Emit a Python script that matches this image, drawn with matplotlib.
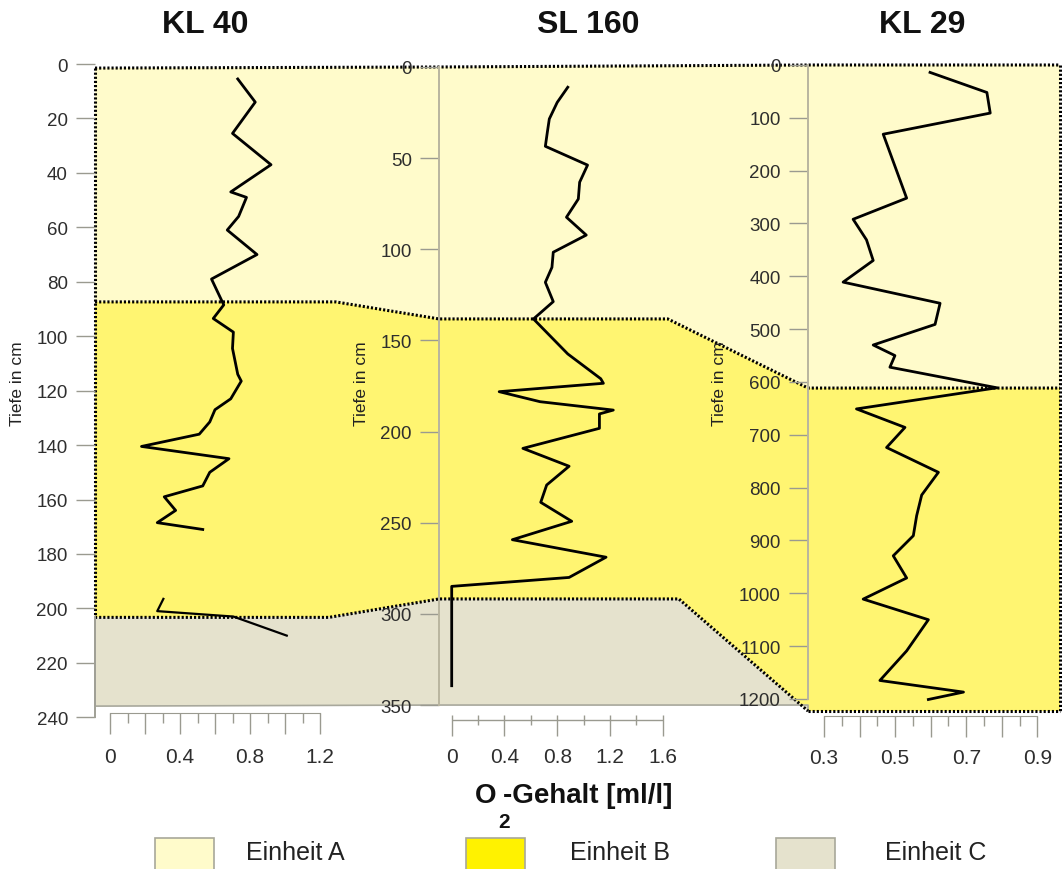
import matplotlib
matplotlib.use("Agg")
import matplotlib.pyplot as plt
import matplotlib.transforms as mtransforms
from matplotlib.patches import Polygon, Rectangle
from matplotlib.ticker import FixedLocator, FuncFormatter

plt.rcParams['font.family'] = ['Liberation Sans', 'DejaVu Sans']

W, H = 1062, 870

# --- O2 profiles (depth in cm, O2 in ml/l) ---
kl40_depth_a = [5.5, 14, 25.5, 37, 47, 49, 56, 61, 70, 79, 88.5, 93.5, 98.5, 104.5,
                114, 116.5, 123, 127, 131.5, 136, 140.5, 145, 150, 155, 159, 164,
                168.5, 171]
kl40_o2_a = [0.73, 0.83, 0.70, 0.92, 0.69, 0.78, 0.735, 0.67, 0.84, 0.58, 0.65, 0.59,
             0.705, 0.70, 0.73, 0.75, 0.69, 0.60, 0.57, 0.51, 0.18, 0.68, 0.57, 0.53,
             0.31, 0.375, 0.27, 0.53]
kl40_depth_b = [196.5, 201, 203, 210]
kl40_o2_b = [0.305, 0.27, 0.705, 1.01]

sl160_depth = [11.1, 19.4, 28.5, 35.8, 43.5, 53.8, 63.2, 72.4, 82.4, 92.2, 101.6,
               109.9, 118.1, 128.7, 138.2, 157.4, 171, 173.5, 178.1, 183.6, 188.2,
               190.3, 198.2, 209.2, 219, 229.3, 238.8, 249.2, 259.3, 268.9, 280,
               284.9, 339.4]
sl160_o2 = [0.88, 0.80, 0.74, 0.725, 0.71, 1.03, 0.97, 0.96, 0.87, 1.02, 0.77, 0.76,
            0.71, 0.77, 0.62, 0.88, 1.13, 1.15, 0.36, 0.67, 1.225, 1.12, 1.12, 0.54,
            0.89, 0.72, 0.675, 0.91, 0.46, 1.17, 0.89, 0.0, 0.0]

kl29_depth = [14, 52, 91, 131, 252, 292, 331, 370, 411, 451, 491, 530, 550, 572, 611,
              651, 686, 724, 771, 814, 853, 891, 929, 971, 1011, 1050, 1109, 1165,
              1187, 1201]
kl29_o2 = [0.62, 0.79, 0.80, 0.48, 0.55, 0.39, 0.43, 0.45, 0.36, 0.65, 0.635, 0.45,
           0.515, 0.50, 0.82, 0.40, 0.545, 0.49, 0.645, 0.595, 0.58, 0.57, 0.51,
           0.55, 0.42, 0.615, 0.55, 0.47, 0.72, 0.615]

# unit boundaries per core: top, A/B, B/C (or base)
kl40_units = {'top': 1.5, 'ab': 87.4, 'bc': 203.3, 'base': 235.9}
sl160_units = {'top': 0, 'ab': 138.2, 'bc': 291.8, 'base': 350}
kl29_units = {'top': 0, 'ab': 611.5, 'base': 1222.8}

cores = ['KL 40', 'SL 160', 'KL 29']
depth_ticks = [list(range(0, 241, 20)), list(range(0, 351, 50)), list(range(0, 1201, 100))]
units = ['Einheit A', 'Einheit B', 'Einheit C']

col_a = '#FFFBCB'
col_b = '#FFF571'
col_c = '#E5E2CD'
col_b_legend = '#FFF200'
tick_col = '#9a9a90'
text_col = '#2e2e2e'

fig = plt.figure(figsize=(W / 100, H / 100), dpi=100)
bg = fig.add_axes([0, 0, 1, 1], zorder=0)
bg.set_xlim(0, W)
bg.set_ylim(H, 0)
bg.axis('off')


def px_axes(left, top, right, bottom, **kw):
    return fig.add_axes([left / W, 1 - bottom / H, (right - left) / W, (bottom - top) / H], **kw)


def core_axes(rect, xlim, ylim, ticks, spine_bounds, spine_col):
    ax = px_axes(*rect, zorder=2)
    ax.patch.set_visible(False)
    ax.set_xlim(*xlim)
    ax.set_ylim(*ylim)
    for s in ['top', 'right', 'bottom']:
        ax.spines[s].set_visible(False)
    ax.spines['left'].set_bounds(*spine_bounds)
    ax.spines['left'].set_color(spine_col)
    ax.spines['left'].set_linewidth(1.4)
    ax.set_yticks(ticks)
    ax.tick_params(axis='y', direction='out', length=13.5, width=1, color=tick_col,
                   pad=6, labelsize=13.5, labelcolor=text_col)
    ax.tick_params(axis='x', bottom=False, labelbottom=False)
    return ax


ax40 = core_axes((95, 65, 439, 65 + 240 * 2.722), (-15 / 175, 329 / 175), (240, 0),
                 depth_ticks[0], (203.3, 240), '#a0a096')
ax160 = core_axes((439, 68, 808, 68 + 350 * 1.823),
                  ((439 - 451.7) / 131.9, (808 - 451.7) / 131.9), (350, 0),
                  depth_ticks[1], (0, 350), '#b9b59f')
ax29 = core_axes((808, 66, 1060, 66 + 1225 * 0.5283),
                 (0.3 - 16 / 355.6, 0.3 + 252 / 355.6), (1225, 0),
                 depth_ticks[2], (0, 1200), '#b9b59f')

ax40.plot(kl40_o2_a, kl40_depth_a, color='black', lw=2)
ax40.plot(kl40_o2_b, kl40_depth_b, color='black', lw=1.6)
ax160.plot(sl160_o2, sl160_depth, color='black', lw=2)
ax29.plot(kl29_o2, kl29_depth, color='black', lw=2)


def to_bg(ax, fx, depth):
    tr = mtransforms.blended_transform_factory(ax.transAxes, ax.transData)
    return tuple(bg.transData.inverted().transform(tr.transform((fx, depth))))


top_line = [to_bg(ax40, 0, kl40_units['top']), to_bg(ax160, 0, sl160_units['top']),
            to_bg(ax29, 0, kl29_units['top']), to_bg(ax29, 1, kl29_units['top'])]
ab_line = [to_bg(ax40, 0, kl40_units['ab']), to_bg(ax40, 0.7, kl40_units['ab']),
           to_bg(ax160, 0, sl160_units['ab']), to_bg(ax160, 0.62, sl160_units['ab']),
           to_bg(ax29, 0, kl29_units['ab']), to_bg(ax29, 1, kl29_units['ab'])]
bc_line = [to_bg(ax40, 0, kl40_units['bc']), to_bg(ax40, 0.68, kl40_units['bc']),
           to_bg(ax160, 0, sl160_units['bc']), to_bg(ax160, 0.65, sl160_units['bc']),
           to_bg(ax29, 0, kl29_units['base'])]
base_line = [to_bg(ax29, 0, kl29_units['base']), to_bg(ax29, 1, kl29_units['base'])]
c_bottom = [to_bg(ax160, 1, sl160_units['base']), to_bg(ax160, 0, sl160_units['base']),
            to_bg(ax40, 0, kl40_units['base'])]

poly_a = top_line + ab_line[::-1]
poly_b = ab_line + [to_bg(ax29, 1, kl29_units['base'])] + bc_line[::-1]
poly_c = bc_line + c_bottom

bg.add_patch(Polygon(poly_a, closed=True, facecolor=col_a, edgecolor='none', zorder=1))
bg.add_patch(Polygon(poly_b, closed=True, facecolor=col_b, edgecolor='none', zorder=1))
bg.add_patch(Polygon(poly_c, closed=True, facecolor=col_c, edgecolor='none', zorder=1))
cx, cy = zip(*([bc_line[-1]] + c_bottom + [bc_line[0]]))
bg.plot(cx, cy, color='#a8a89c', lw=1.2, zorder=2)

dots = dict(color='black', lw=2.2, linestyle=(0, (0.7, 0.65)), zorder=3)
for line in [top_line, ab_line, bc_line, base_line,
             [top_line[-1], base_line[-1]],
             [top_line[0], bc_line[0]]]:
    xs, ys = zip(*line)
    bg.plot(xs, ys, **dots)


def o2_scale(rect, ticks, minor, labelled, line_frac, top_line_on):
    ax = px_axes(*rect, zorder=2)
    ax.patch.set_visible(False)
    ax.set_xlim(ticks[0], ticks[-1])
    ax.set_ylim(0, 1)
    for s in ['left', 'right', 'bottom']:
        ax.spines[s].set_visible(False)
    ax.spines['top'].set_visible(top_line_on)
    ax.spines['top'].set_color(tick_col)
    ax.set_yticks([])
    ax.xaxis.set_major_locator(FixedLocator(ticks))
    ax.xaxis.set_minor_locator(FixedLocator(minor))
    ax.xaxis.set_major_formatter(FuncFormatter(
        lambda v, p: f'{v:g}' if any(abs(v - l) < 1e-6 for l in labelled) else ''))
    ax.tick_params(axis='x', which='both', top=True, bottom=False, direction='in',
                   color=tick_col, width=1, labelbottom=True, labeltop=False)
    ax.tick_params(axis='x', which='major', length=15, labelsize=15, pad=9,
                   labelcolor=text_col)
    ax.tick_params(axis='x', which='minor', length=7.5)
    if line_frac is not None:
        ax.axhline(line_frac, color=tick_col, lw=1)
    return ax


o2_ticks_40 = [0, 0.2, 0.4, 0.6, 0.8, 1.0, 1.2]
o2_minor_40 = [0.1, 0.3, 0.5, 0.7, 0.9, 1.1]
o2_labels_40 = [0, 0.4, 0.8, 1.2]
o2_ticks_160 = [0, 0.4, 0.8, 1.2, 1.6]
o2_minor_160 = [0.2, 0.6, 1.0, 1.4]
o2_ticks_29 = [0.3, 0.4, 0.5, 0.6, 0.7, 0.8, 0.9]
o2_minor_29 = [0.35, 0.45, 0.55, 0.65, 0.75, 0.85]
o2_labels_29 = [0.3, 0.5, 0.7, 0.9]

o2_scale((110, 714, 110 + 1.2 * 175, 736), o2_ticks_40, o2_minor_40, o2_labels_40, None, True)
o2_scale((451.7, 716, 451.7 + 1.6 * 131.9, 736), o2_ticks_160, o2_minor_160,
         o2_ticks_160, 0.75, False)
o2_scale((824, 717, 824 + 0.6 * 355.6, 737), o2_ticks_29, o2_minor_29, o2_labels_29, None, True)

# titles and axis labels
for name, x in zip(cores, [205, 588, 922]):
    bg.text(x, 25, name, fontsize=23, fontweight='bold', ha='center', va='center',
            color='#111111')
for x in [18, 361, 719]:
    bg.text(x, 384, 'Tiefe in cm', fontsize=12.5, rotation=90, ha='center', va='center',
            color='#222222')

bg.text(486, 796, 'O', fontsize=20, fontweight='bold', ha='center', va='center',
        color='#111111')
bg.text(503, 796, '-Gehalt [ml/l]', fontsize=20, fontweight='bold', ha='left', va='center',
        color='#111111')
bg.text(504, 823, '2', fontsize=15, fontweight='bold', ha='center', va='center',
        color='#111111')

# legend
for label, x_box, x_txt, fc in zip(units, [155, 466, 776], [246, 570, 885],
                                   [col_a, col_b_legend, col_c]):
    bg.add_patch(Rectangle((x_box, 839), 59, 45, facecolor=fc, edgecolor='#a8a89a',
                           lw=1.2, zorder=2))
    bg.text(x_txt, 853, label, fontsize=18, ha='left', va='center', color='#222222')

fig.savefig('out.png', dpi=100)
